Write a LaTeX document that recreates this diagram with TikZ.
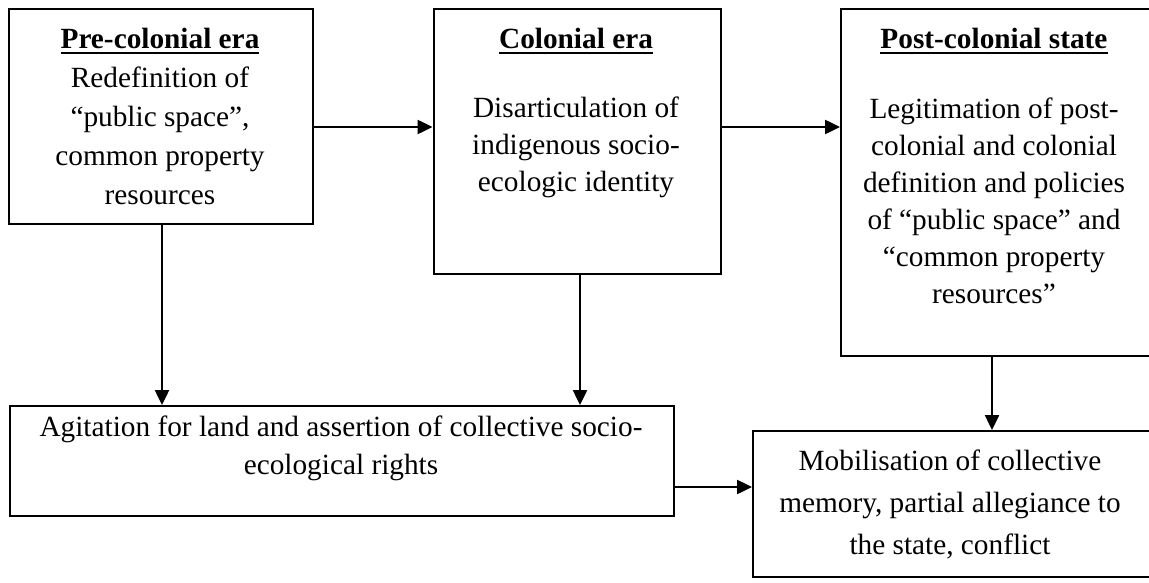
\documentclass[tikz,border=0pt]{standalone}
\usepackage{fontspec}
\setmainfont{Liberation Serif}
\usetikzlibrary{arrows.meta}
\newcommand\hdr[1]{\setbox0\hbox{\bfseries #1}\rlap{\rule[-5pt]{\wd0}{2pt}}\box0}
\newcommand\firststrut{\rule{0pt}{20pt}}
\begin{document}
\begin{tikzpicture}[x=1pt,y=-1pt,
 box/.style={draw, line width=2.2pt, anchor=north west, inner sep=0pt},
 txt/.style={anchor=north, inner sep=0pt, align=center, font=\fontsize{29.3}{#1}\selectfont},
 txt/.default=37,
 arr/.style={line width=2.5pt, -{Triangle[length=15pt,width=14pt]}}]
\useasboundingbox (0,0) rectangle (1149,583);
\fill[white] (0,0) rectangle (1149,583);
% boxes
\node[box, minimum width=304pt, minimum height=215pt] (b1) at (8,8) {};
\node[box, minimum width=287.5pt, minimum height=265pt] (b2) at (432.5,8) {};
\node[box, minimum width=312pt, minimum height=347pt] (b3) at (840,8) {};
\node[box, minimum width=664pt, minimum height=110pt] (b4) at (9,405) {};
\node[box, minimum width=399pt, minimum height=146pt] (b5) at (752,430) {};
% texts
\node[txt=39] (t1) at (160,28) {\firststrut\hdr{Pre-colonial era}\\Redefinition of\\“public space”,\\common property\\resources};
\node[txt] (t2) at (576,28) {\firststrut\hdr{Colonial era}\\[32pt]Disarticulation of\\indigenous socio-\\ecologic identity};
\node[txt] (t3) at (994,28) {\firststrut\hdr{Post-colonial state}\\[33pt]Legitimation of post-\\colonial and colonial\\definition and policies\\of “public space” and\\“common property\\resources”};
\node[txt=38] (t4) at (341,416) {\firststrut Agitation for land and assertion of collective socio-\\ecological rights};
\node[txt=42] (t5) at (950,450) {\firststrut Mobilisation of collective\\memory, partial allegiance to\\the state, conflict};
% connectors
\coordinate (ry) at (0,127);
\coordinate (ry2) at (0,487);
\coordinate (cx1) at (162,0);
\coordinate (cx2) at (580,0);
\coordinate (cx3) at (992,0);
\draw[arr] (b1.east |- ry) -- (b2.west |- ry);
\draw[arr] (b2.east |- ry) -- (b3.west |- ry);
\draw[arr] (b1.south -| cx1) -- (b4.north -| cx1);
\draw[arr] (b2.south -| cx2) -- (b4.north -| cx2);
\draw[arr] (b3.south -| cx3) -- (b5.north -| cx3);
\draw[arr] (b4.east |- ry2) -- (b5.west |- ry2);
\end{tikzpicture}
\end{document}
